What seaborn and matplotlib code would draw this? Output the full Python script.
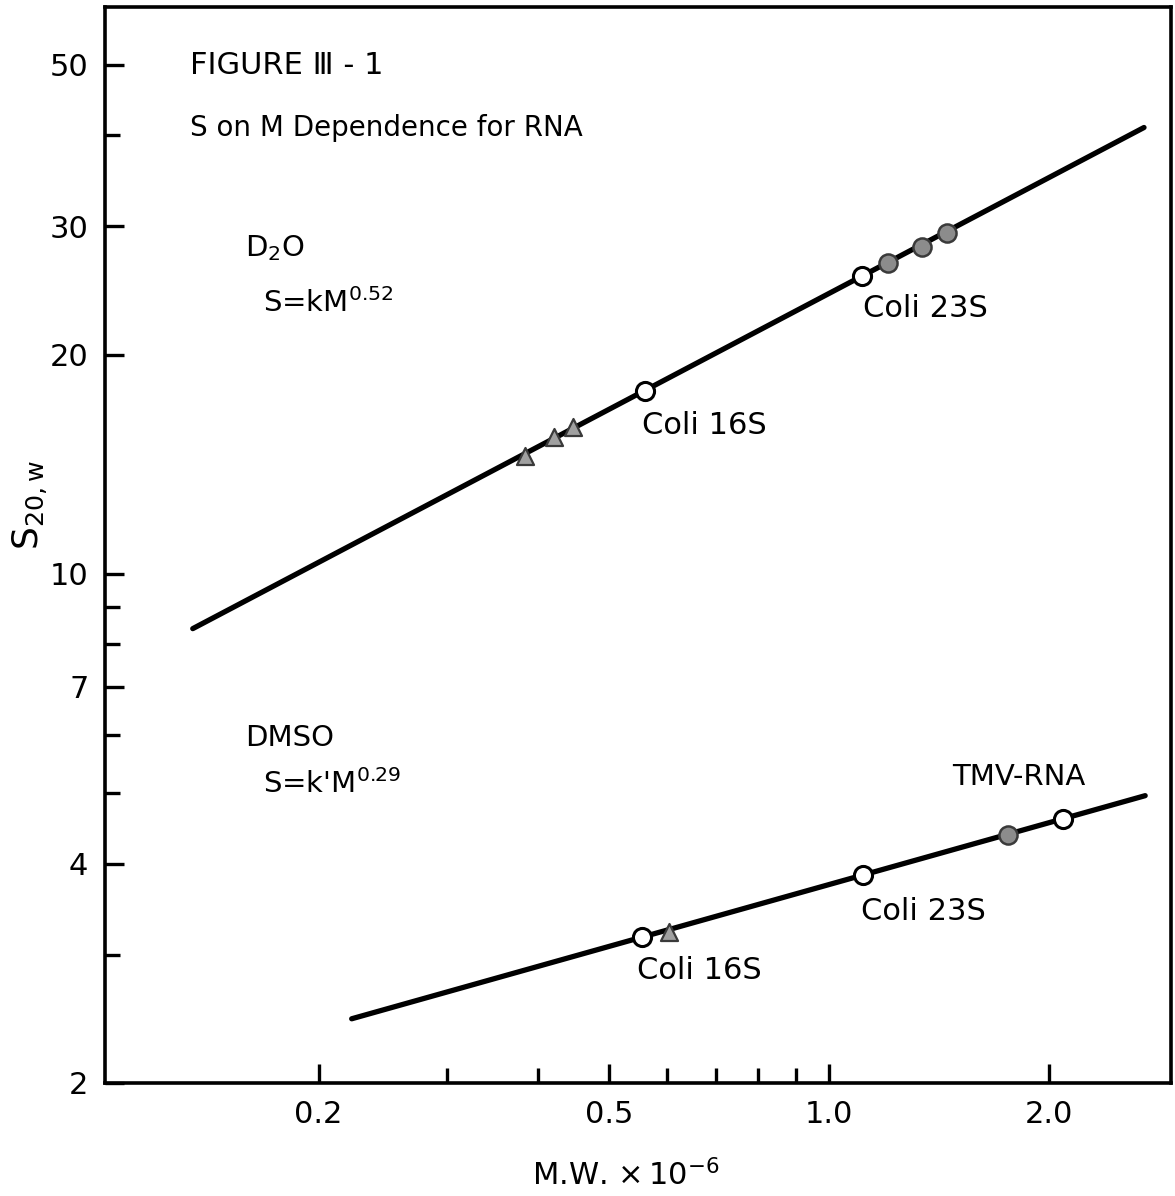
# S on M dependence for RNA (log-log), redrawn from Figure III-1

import matplotlib
matplotlib.use('Agg')
import matplotlib.pyplot as plt
import seaborn as sns
import pandas as pd

sns.set_theme(style="ticks")
plt.rcParams['font.family'] = ['DejaVu Sans']
plt.rcParams['mathtext.fontset'] = 'dejavusans'

# --- data (M.W. x 1e-6, S20,w) ---
d2o_fit_mw = [0.1345, 2.70]
d2o_fit_s = [8.41, 41.0]
d2o_open_mw = [0.560, 1.11]
d2o_open_s = [17.8, 25.6]
d2o_filled_mw = [1.205, 1.341, 1.451]
d2o_filled_s = [26.7, 28.1, 29.4]
d2o_tri_mw = [0.383, 0.420, 0.446]
d2o_tri_s = [14.5, 15.4, 15.9]

dmso_fit_mw = [0.222, 2.71]
dmso_fit_s = [2.45, 4.96]
dmso_open_mw = [0.554, 1.113, 2.092]
dmso_open_s = [3.17, 3.86, 4.61]
dmso_filled_mw = [1.759]
dmso_filled_s = [4.38]
dmso_tri_mw = [0.604]
dmso_tri_s = [3.22]

x_major = [0.2, 0.5, 1.0, 2.0]
x_major_labels = ['0.2', '0.5', '1.0', '2.0']
x_minor = [0.3, 0.4, 0.6, 0.7, 0.8, 0.9]
y_major = [2, 4, 7, 10, 20, 30, 50]
y_major_labels = ['2', '4', '7', '10', '20', '30', '50']
y_minor = [3, 5, 6, 8, 9, 40]

fig = plt.figure(figsize=(11.75, 11.96), dpi=100)
ax = fig.add_axes([0.0894, 0.0945, 0.9072, 0.8996])
ax.set_xscale('log')
ax.set_yscale('log')

# fitted lines
for fx, fy in [(d2o_fit_mw, d2o_fit_s), (dmso_fit_mw, dmso_fit_s)]:
    sns.lineplot(x=fx, y=fy, ax=ax, color='black', linewidth=3.8,
                 solid_capstyle='round', zorder=2)

# points
open_pts = pd.DataFrame({'mw': d2o_open_mw + dmso_open_mw, 's': d2o_open_s + dmso_open_s})
filled_pts = pd.DataFrame({'mw': d2o_filled_mw + dmso_filled_mw, 's': d2o_filled_s + dmso_filled_s})
tri_pts = pd.DataFrame({'mw': d2o_tri_mw + dmso_tri_mw, 's': d2o_tri_s + dmso_tri_s})

sns.scatterplot(data=open_pts, x='mw', y='s', ax=ax, marker='o', s=170,
                facecolor='white', edgecolor='black', linewidth=2.2, zorder=3)
sns.scatterplot(data=filled_pts, x='mw', y='s', ax=ax, marker='o', s=170,
                facecolor='#8c8c8c', edgecolor='#3a3a3a', linewidth=1.8, zorder=3)
sns.scatterplot(data=tri_pts, x='mw', y='s', ax=ax, marker='^', s=150,
                facecolor='#a0a0a0', edgecolor='#3a3a3a', linewidth=1.6, zorder=3)

ax.set_xlim(0.102, 2.94)
ax.set_ylim(2.0, 60.0)

ax.set_xticks(x_major)
ax.set_xticklabels(x_major_labels)
ax.set_xticks(x_minor, minor=True)
ax.set_xticklabels([], minor=True)
ax.set_yticks(y_major)
ax.set_yticklabels(y_major_labels)
ax.set_yticks(y_minor, minor=True)
ax.set_yticklabels([], minor=True)

ax.tick_params(which='major', direction='in', length=14, width=2.4,
               labelsize=22, pad=12, colors='black')
ax.tick_params(which='minor', direction='in', length=10.5, width=2.4, colors='black')
ax.tick_params(top=False, right=False, which='both')
for sp in ax.spines.values():
    sp.set_linewidth(2.6)
    sp.set_color('black')

ax.set_xlabel(r'M.W. $\times\,$10$^{-6}$', fontsize=22, color='black')
ax.xaxis.set_label_coords(0.488, -0.0855)
ax.xaxis.label.set_verticalalignment('center')
ax.set_ylabel(r'S$_{\mathrm{20,w}}$', fontsize=26, color='black')
ax.yaxis.set_label_coords(-0.070, 0.537)
ax.yaxis.label.set_verticalalignment('center')
ax.grid(False)

# annotations
txt = dict(transform=ax.transAxes, color='black')
ax.text(0.080, 0.946, 'FIGURE Ⅲ - 1', fontsize=22, va='center', **txt)
ax.text(0.080, 0.888, 'S on M Dependence for RNA', fontsize=20, va='center', **txt)
ax.text(0.131, 0.776, r'D$_2$O', fontsize=21, va='center', **txt)
ax.text(0.148, 0.7165, r'S=kM$^{0.52}$', fontsize=21, va='baseline', **txt)
ax.text(0.131, 0.3206, 'DMSO', fontsize=21, va='center', **txt)
ax.text(0.148, 0.2695, r"S=k'M$^{0.29}$", fontsize=21, va='baseline', **txt)
ax.text(0.711, 0.720, 'Coli 23S', fontsize=22, va='center', **txt)
ax.text(0.504, 0.6115, 'Coli 16S', fontsize=22, va='center', **txt)
ax.text(0.795, 0.284, 'TMV-RNA', fontsize=21, va='center', **txt)
ax.text(0.709, 0.159, 'Coli 23S', fontsize=22, va='center', **txt)
ax.text(0.499, 0.105, 'Coli 16S', fontsize=22, va='center', **txt)

fig.savefig('out.png', dpi=100, facecolor='white')
